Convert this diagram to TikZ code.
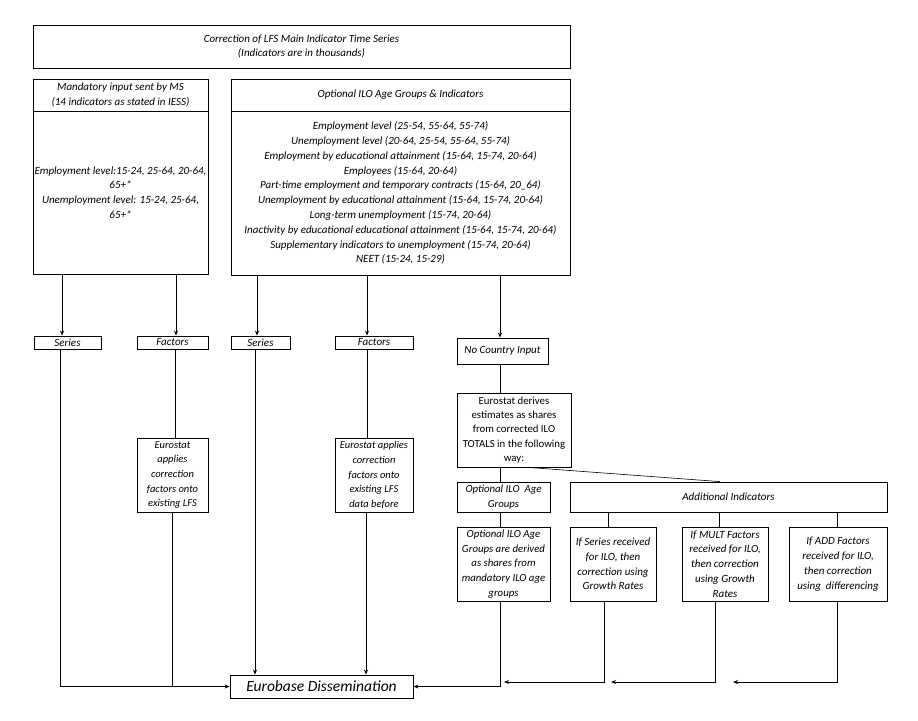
\documentclass[tikz,border=0pt]{standalone}
\usepackage{fontspec}
\setmainfont{Carlito}
\usetikzlibrary{arrows.meta,calc}
\tikzset{
  bx/.style={draw, line width=0.8pt, inner sep=0pt, align=center,
    font=\itshape\fontsize{11}{14.8}\selectfont},
  bxs/.style={bx, font=\itshape\fontsize{10.8}{14.7}\selectfont},
  bxm/.style={bx, font=\itshape\fontsize{10.5}{14.7}\selectfont},
  bxr/.style={bx, font=\fontsize{10.8}{14.2}\selectfont},
  arr/.style={line width=0.9pt, -{Stealth[length=5pt,width=4pt]}},
  thin/.style={line width=0.6pt}
}
% helper: box from (x1,y1) to (x2,y2) in pixel units
\newcommand{\pbox}[7]{%
  \node[#1, minimum width={(#5-#3)*1pt}, minimum height={(#6-#4)*1pt}]
    (#2) at ({(#3+#5)/2},{(#4+#6)/2}) {#7};}
\begin{document}
\begin{tikzpicture}[x=1pt,y=-1pt]
\useasboundingbox (0,0) rectangle (918,720);
% top
\pbox{bx}{top}{33}{25}{570}{68}{Correction of LFS Main Indicator Time Series\\(Indicators are in thousands)}
% mandatory
\pbox{bx}{mandt}{33}{79}{208}{111}{Mandatory input sent by MS\\(14 indicators as stated in IESS)}
\pbox{bx}{mandc}{33}{111}{208}{274}{Employment level:15-24, 25-64, 20-64,\\65+*\\Unemployment level: 15-24, 25-64,\\65+*}
% optional
\pbox{bx}{optt}{231}{79}{570}{111}{Optional ILO Age Groups \& Indicators}
\pbox{bx}{optc}{231}{111}{570}{275}{Employment level (25-54, 55-64, 55-74)\\Unemployment level (20-64, 25-54, 55-64, 55-74)\\Employment by educational attainment (15-64, 15-74, 20-64)\\Employees (15-64, 20-64)\\Part-time employment and temporary contracts (15-64, 20\_64)\\Unemployment by educational attainment (15-64, 15-74, 20-64)\\Long-term unemployment (15-74, 20-64)\\Inactivity by educational educational attainment (15-64, 15-74, 20-64)\\Supplementary indicators to unemployment (15-74, 20-64)\\NEET (15-24, 15-29)}
% second row
\pbox{bx}{ser1}{34}{336}{101}{349}{Series}
\pbox{bx}{fac1}{137}{336}{208}{349}{Factors}
\pbox{bx}{ser2}{231}{336}{290}{349}{Series}
\pbox{bx}{fac2}{335}{336}{413}{349}{Factors}
\pbox{bx}{nci}{457}{338}{548}{364}{No Country Input}
% eurostat boxes
\pbox{bxm}{ea1}{137}{438}{208}{512}{Eurostat\\applies\\correction\\factors onto\\existing LFS}
\pbox{bxm}{ea2}{335}{438}{413}{512}{Eurostat applies\\correction\\factors onto\\existing LFS\\data before}
\pbox{bxr}{ed}{457}{393}{571}{467}{Eurostat derives\\estimates as shares\\from corrected ILO\\TOTALS in the following\\way:}
\pbox{bxs}{oag}{457}{482}{550}{512}{Optional ILO\ \ Age\\Groups}
\pbox{bxs}{oad}{457}{527}{550}{601}{Optional ILO Age\\Groups are derived\\as shares from\\mandatory ILO age\\groups}
\pbox{bx}{add}{570}{482}{887}{512}{Additional Indicators}
\pbox{bx}{is}{570}{527}{656}{601}{If Series received\\for ILO, then\\correction using\\Growth Rates}
\pbox{bx}{im}{682}{527}{768}{601}{If MULT Factors\\received for ILO,\\then correction\\using Growth\\Rates}
\pbox{bx}{ia}{789}{527}{887}{601}{If ADD Factors\\received for ILO,\\then correction\\using\ \ differencing}
% eurobase
\node[draw, line width=0.8pt, inner sep=0pt, minimum width=183pt, minimum height=23pt,
  font=\itshape\fontsize{15.5}{18}\selectfont] (eb) at (321.5,686.5) {Eurobase Dissemination};
% free ends
\coordinate (e1) at (504,682);
\coordinate (e2) at (611,682);
\coordinate (e3) at (733,682);
% arrows from top boxes
\draw[arr] ([xshift=-5.5]ser1.north |- mandc.south) -- ([xshift=-5.5]ser1.north);
\draw[arr] ([xshift=3.5]fac1.north |- mandc.south) -- ([xshift=3.5]fac1.north);
\draw[arr] ([xshift=-3.5]ser2.north |- optc.south) -- ([xshift=-3.5]ser2.north);
\draw[arr] ([xshift=-7]fac2.north |- optc.south) -- ([xshift=-7]fac2.north);
\draw[arr] ([xshift=-2.5]nci.north |- optc.south) -- ([xshift=-2.5]nci.north);
% left side
\draw[arr] ([xshift=-7.5]ser1.south) |- (eb.west);
\draw[thin] ([xshift=2.5]fac1.south) -- ([xshift=2.5]ea1.north);
\draw[thin] ([xshift=-0.5]ea1.south) -- ([xshift=-0.5]ea1.south |- eb.west);
\draw[arr] ([xshift=-5.5]ser2.south) -- ([xshift=-5.5]ser2.south |- eb.north);
\draw[thin] ([xshift=-7]fac2.south) -- ([xshift=-7]ea2.north);
\draw[arr] ([xshift=-8]ea2.south) -- ([xshift=-8]ea2.south |- eb.north);
% right side
\draw[thin] ([xshift=-2.5]nci.south) -- ([xshift=-14]ed.north);
\draw[thin] ([xshift=-14]ed.south) -- ([xshift=-3.5]oag.north);
\draw[thin] ([xshift=14]ed.south) -- ([xshift=-8.5]add.north);
\draw[thin] ([xshift=-3.5]oag.south) -- ([xshift=-3.5]oad.north);
\draw[thin] ([xshift=-5]is.north |- add.south) -- ([xshift=-5]is.north);
\draw[thin] ([xshift=-6]im.north |- add.south) -- ([xshift=-6]im.north);
\draw[thin] ([xshift=-1]ia.north |- add.south) -- ([xshift=-1]ia.north);
% bottom returns
\draw[arr] ([xshift=-3.5]oad.south) |- (eb.east);
\draw[arr] ([xshift=-9]is.south) |- (e1);
\draw[arr] ([xshift=-10]im.south) |- (e2);
\draw[arr] ([xshift=-1]ia.south) |- (e3);
\end{tikzpicture}
\end{document}
